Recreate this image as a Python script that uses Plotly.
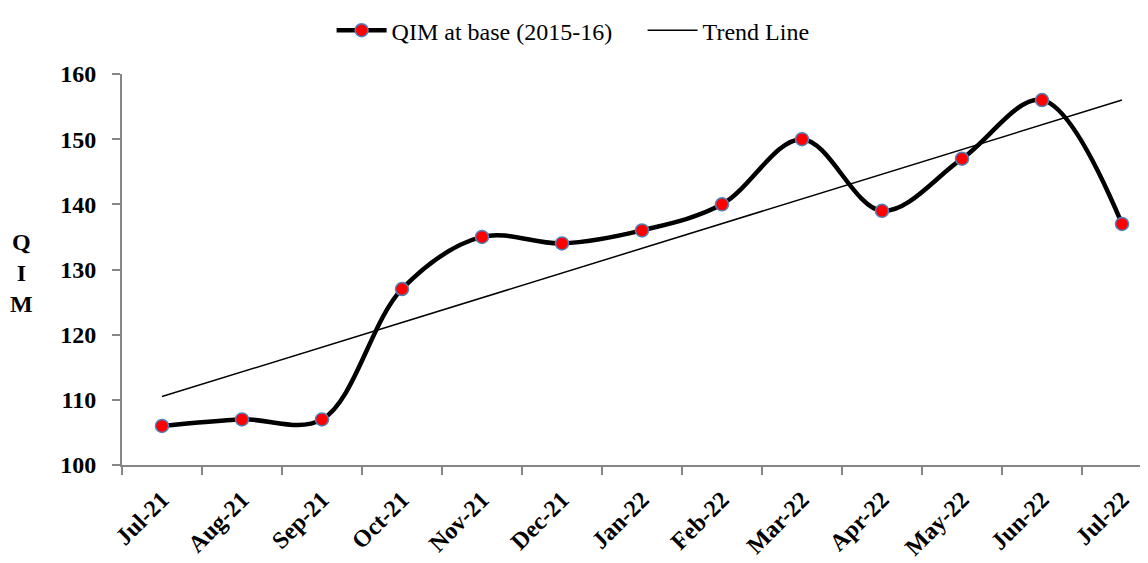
import plotly.graph_objects as go

months = ["Jul-21", "Aug-21", "Sep-21", "Oct-21", "Nov-21", "Dec-21", "Jan-22",
          "Feb-22", "Mar-22", "Apr-22", "May-22", "Jun-22", "Jul-22"]
qim = [106, 107, 107, 127, 135, 134, 136, 140, 150, 139, 147, 156, 137]
trend_months = ["Jul-21", "Jul-22"]
trend_values = [110.5, 156]
y_ticks = [100, 110, 120, 130, 140, 150, 160]

FONT = "Liberation Serif, Times New Roman, serif"

fig = go.Figure()
fig.add_trace(go.Scatter(
    x=months, y=qim, name="QIM at base (2015-16)",
    mode="lines+markers",
    line=dict(color="black", width=4.5, shape="spline", smoothing=1),
    marker=dict(color="#FF0000", size=13, line=dict(color="#4F81BD", width=1.5)),
))
fig.add_trace(go.Scatter(
    x=trend_months, y=trend_values, name="Trend Line",
    mode="lines", line=dict(color="black", width=1.5),
))

fig.update_layout(
    width=1148, height=563,
    margin=dict(l=114, r=0, t=61, b=106),
    paper_bgcolor="white", plot_bgcolor="white",
    font=dict(family=FONT, color="black"),
    showlegend=True,
    legend=dict(orientation="h", x=0.2027, xanchor="left", y=1.111, yanchor="middle",
                font=dict(size=24, family=FONT), itemwidth=50, entrywidth=246,
                tracegroupgap=0),
    xaxis=dict(
        type="category", categoryorder="array", categoryarray=months,
        range=[-0.5, 12.425], tickson="boundaries", automargin=False,
        showline=True, linecolor="#868686", linewidth=2,
        ticks="outside", ticklen=8, tickcolor="#868686", tickwidth=2,
        tickangle=-45, showgrid=False, zeroline=False, ticklabelstandoff=9,
        tickfont=dict(size=24, family=FONT, weight="bold"),
    ),
    yaxis=dict(
        range=[100, 160], tickvals=y_ticks, automargin=False,
        showline=True, linecolor="#868686", linewidth=2,
        ticks="outside", ticklen=8, tickcolor="#868686", tickwidth=2,
        showgrid=False, zeroline=False, ticklabelstandoff=11,
        tickfont=dict(size=24, family=FONT, weight="bold"),
    ),
    annotations=[dict(
        text="<b>Q<br>I<br>M</b>", xref="paper", yref="paper",
        x=-0.097, y=0.49, xanchor="center", yanchor="middle",
        showarrow=False, font=dict(size=24, family=FONT), align="center",
    )],
)

fig.write_html("out.html")
